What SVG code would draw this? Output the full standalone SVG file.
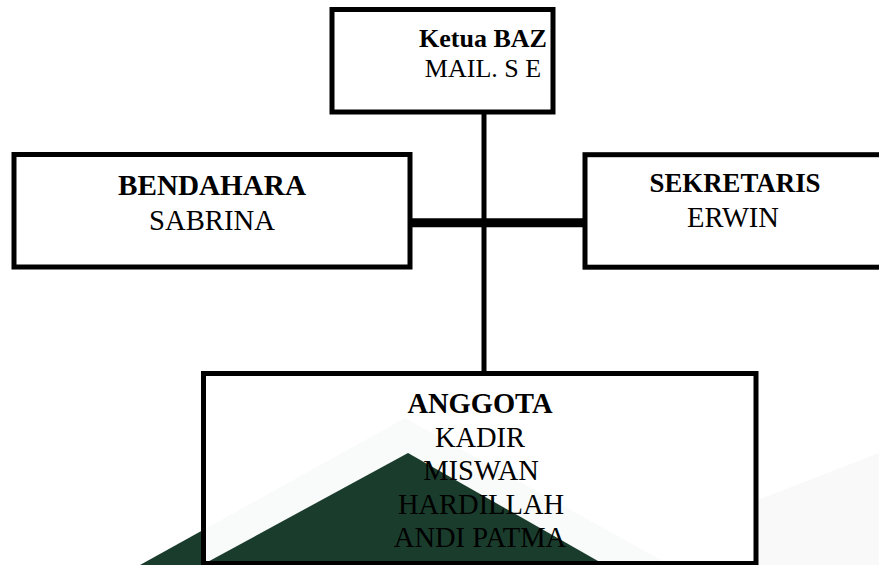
<svg xmlns="http://www.w3.org/2000/svg" width="879" height="565" viewBox="0 0 879 565">
  <style>
    .box { fill: none; stroke: #000; stroke-width: 5; }
    .t { font-family: "Liberation Serif", "Times New Roman", serif; fill: #000; text-anchor: middle; }
    .b { font-weight: bold; }
    .link { stroke: #000; fill: none; }
  </style>
  <rect x="0" y="0" width="879" height="565" fill="#fff"/>
  <!-- background decoration -->
  <polygon points="589,565 879,453 879,565" fill="#f9f9f9"/>
  <polygon points="405,418 140,565 670,565" fill="#1a3c2c"/>
  <rect x="203.5" y="373.5" width="552.5" height="191.5" fill="#fff" fill-opacity="0.975"/>
  <polygon points="408,453 202,565 605,565" fill="#1a3c2c"/>

  <g id="connectors">
    <line class="link" x1="484" y1="114" x2="484" y2="371" stroke-width="5"/>
    <line class="link" x1="411" y1="222.8" x2="584" y2="222.8" stroke-width="9"/>
  </g>

  <g id="ketua">
    <rect class="box" x="332" y="9.5" width="221" height="102.5"/>
    <text class="t b" x="483" y="46.5" font-size="26">Ketua BAZ</text>
    <text class="t" x="483" y="76.5" font-size="26">MAIL. S E</text>
  </g>

  <g id="bendahara">
    <rect class="box" x="14" y="154.5" width="396" height="112.5"/>
    <text class="t b" x="212" y="195" font-size="30" textLength="188" lengthAdjust="spacingAndGlyphs">BENDAHARA</text>
    <text class="t" x="212" y="229.5" font-size="29" textLength="126" lengthAdjust="spacingAndGlyphs">SABRINA</text>
  </g>

  <g id="sekretaris">
    <rect class="box" x="585" y="154.7" width="320" height="112.5"/>
    <text class="t b" x="735" y="192" font-size="28" textLength="171" lengthAdjust="spacingAndGlyphs">SEKRETARIS</text>
    <text class="t" x="733" y="227" font-size="30" textLength="92" lengthAdjust="spacingAndGlyphs">ERWIN</text>
  </g>

  <g id="anggota">
    <rect class="box" x="203.5" y="373.5" width="552.5" height="190"/>
    <text class="t b" x="480" y="412.5" font-size="28.5">ANGGOTA</text>
    <text class="t" x="480" y="447" font-size="28.5">KADIR</text>
    <text class="t" x="481" y="480" font-size="28.5">MISWAN</text>
    <text class="t" x="481" y="514" font-size="28.5">HARDILLAH</text>
    <text class="t" x="480" y="547" font-size="28.5">ANDI PATMA</text>
  </g>
</svg>
